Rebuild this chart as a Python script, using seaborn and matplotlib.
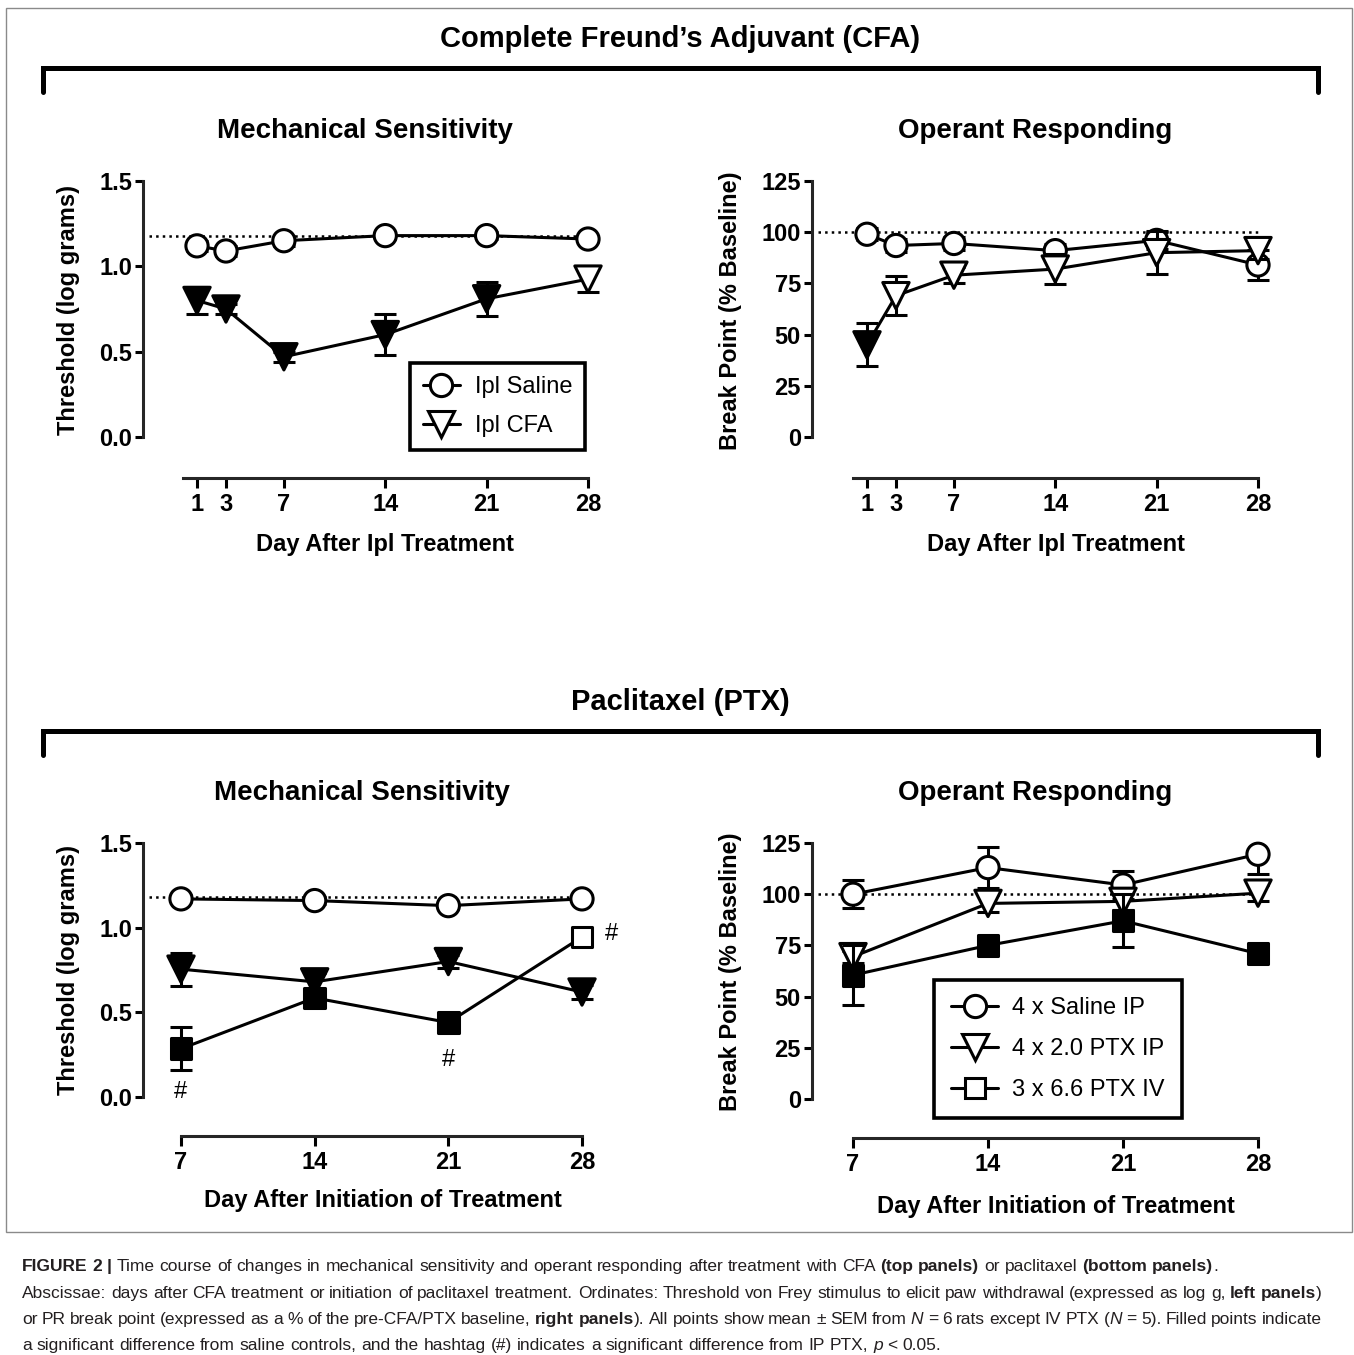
import numpy as np
import pandas as pd
import matplotlib
matplotlib.use("Agg")
import matplotlib.pyplot as plt
import seaborn as sns
from matplotlib.lines import Line2D
from matplotlib.patches import Rectangle

# ---------------- data ----------------
cfa_days = [1, 3, 7, 14, 21, 28]
cfa_mech_saline = [1.12, 1.09, 1.15, 1.18, 1.18, 1.16]
cfa_mech_saline_sem = [0.03, 0.03, 0.03, 0.02, 0.02, 0.02]
cfa_mech_cfa = [0.80, 0.75, 0.47, 0.60, 0.81, 0.925]
cfa_mech_cfa_sem = [0.08, 0.03, 0.03, 0.12, 0.10, 0.075]
cfa_mech_cfa_filled = [True, True, True, True, True, False]
cfa_mech_baseline = 1.175

cfa_op_saline = [99, 93.5, 94.5, 91, 96, 84]
cfa_op_saline_sem = [3, 3, 3, 3, 4, 7.4]
cfa_op_cfa = [45, 69, 79, 82, 90, 91]
cfa_op_cfa_sem = [10.5, 9.5, 4, 7.5, 10.5, 4]
cfa_op_cfa_filled = [True, False, False, False, False, False]
op_baseline = 100

ptx_days = [7, 14, 21, 28]
ptx_mech_saline = [1.17, 1.16, 1.13, 1.17]
ptx_mech_saline_sem = [0.02, 0.02, 0.02, 0.02]
ptx_mech_ip = [0.755, 0.68, 0.80, 0.62]
ptx_mech_ip_sem = [0.098, 0.05, 0.04, 0.04]
ptx_mech_ip_filled = [True, True, True, True]
ptx_mech_iv = [0.285, 0.585, 0.44, 0.945]
ptx_mech_iv_sem = [0.128, 0.03, 0.03, 0.03]
ptx_mech_iv_filled = [True, True, True, False]
ptx_mech_baseline = 1.18

ptx_op_saline = [100, 113, 104.5, 119.5]
ptx_op_saline_sem = [6.8, 10, 7, 9.5]
ptx_op_ip = [69.5, 95.5, 96.5, 100.5]
ptx_op_ip_sem = [3, 4, 4, 4]
ptx_op_iv = [60.5, 75, 87, 71]
ptx_op_iv_sem = [14.5, 3, 13, 3]

mech_ticks = [0.0, 0.5, 1.0, 1.5]
mech_ticklabels = ["0.0", "0.5", "1.0", "1.5"]
op_ticks = [0, 25, 50, 75, 100, 125]
op_ticklabels = ["0", "25", "50", "75", "100", "125"]

cfa_legend = ["Ipl Saline", "Ipl CFA"]
ptx_legend = ["4 x Saline IP", "4 x 2.0 PTX IP", "3 x 6.6 PTX IV"]

# ---------------- style ----------------
sns.set_theme(style="ticks")
plt.rcParams["font.family"] = ["Liberation Sans", "DejaVu Sans"]
plt.rcParams["axes.linewidth"] = 2.2

W, H, DPI = 1354, 1355, 100
fig = plt.figure(figsize=(W / DPI, H / DPI), dpi=DPI)
fig.patch.set_facecolor("white")


def fx(px):
    return px / W


def fy(py):
    return 1 - py / H


def make_axes(left, right, top, bottom, x0p, x0v, x1p, x1v, y0p, y0v, y1p, y1v):
    ax = fig.add_axes([fx(left), fy(bottom), (right - left) / W, (bottom - top) / H])
    sx = (x1v - x0v) / (x1p - x0p)
    ax.set_xlim(x0v + (left - x0p) * sx, x0v + (right - x0p) * sx)
    sy = (y1v - y0v) / (y0p - y1p)
    ax.set_ylim(y0v + (y0p - bottom) * sy, y0v + (y0p - top) * sy)
    ax.set_facecolor("none")
    return ax, sx


def px_to_axes(ax, px, py):
    disp = fig.transFigure.transform((fx(px), fy(py)))
    return ax.transAxes.inverted().transform(disp)


LW = 2.2
SIZES = {"o": 16, "v": 19, "s": 15}


def draw_series(ax, x, y, sem, marker, filled, z):
    # error bars are clipped at the top of the y axis, as in the original
    ax.errorbar(x, y, yerr=sem, fmt="none", ecolor="black", elinewidth=LW,
                capsize=8, capthick=LW, zorder=z)
    sns.lineplot(x=x, y=y, ax=ax, color="black", linewidth=LW, zorder=z + 0.1,
                 estimator=None, sort=False, legend=False)
    fc = ["black" if f else "white" for f in filled]
    ax.scatter(x, y, s=SIZES[marker] ** 2, marker=marker, facecolors=fc,
               edgecolors="black", linewidths=LW, zorder=z + 0.2, clip_on=False)


def style_axes(ax, xticks, xbounds, yticks, yticklabels, ybounds):
    for s in ["top", "right"]:
        ax.spines[s].set_visible(False)
    ax.spines["left"].set_bounds(*ybounds)
    ax.spines["bottom"].set_bounds(*xbounds)
    ax.set_xticks(xticks)
    ax.set_xticklabels([str(t) for t in xticks], fontweight="bold")
    ax.set_yticks(yticks)
    ax.set_yticklabels(yticklabels, fontweight="bold")
    ax.tick_params(axis="x", direction="out", length=7, width=LW, labelsize=17,
                   pad=4, colors="black")
    ax.tick_params(axis="y", direction="out", length=6, width=LW, labelsize=17,
                   pad=2, colors="black")
    ax.grid(False)


def baseline(ax, value, x_end, sx):
    x0 = ax.get_xlim()[0] + 6 * sx
    ax.plot([x0, x_end], [value, value], color="black", lw=1.8, ls=":", zorder=1)


def set_labels(ax, xlabel, xpos, ylabel, ypos):
    ax.set_xlabel(xlabel, fontsize=17, fontweight="bold", color="black")
    ax.xaxis.label.set_va("center")
    ax.xaxis.set_label_coords(*px_to_axes(ax, *xpos))
    ax.set_ylabel(ylabel, fontsize=17, fontweight="bold", color="black")
    ax.yaxis.label.set_va("center")
    ax.yaxis.set_label_coords(*px_to_axes(ax, *ypos))


def legend_handles(markers):
    return [Line2D([0], [0], color="black", lw=LW, marker=m, markersize=SIZES[m],
                   markerfacecolor="white", markeredgecolor="black", markeredgewidth=LW)
            for m in markers]


def add_legend(ax, markers, labels, right_px, bottom_px, spacing, hlen, bpad):
    leg = ax.legend(legend_handles(markers), labels, loc="lower right",
                    bbox_to_anchor=(fx(right_px), fy(bottom_px)),
                    bbox_transform=fig.transFigure, frameon=True, fancybox=False,
                    edgecolor="black", fontsize=17, handlelength=hlen,
                    handletextpad=0.6, labelspacing=spacing, borderpad=bpad,
                    borderaxespad=0, framealpha=1)
    leg.get_frame().set_linewidth(2.6)
    leg.set_zorder(10)
    for t in leg.get_texts():
        t.set_color("black")
    return leg


# ---------------- top-left: CFA mechanical ----------------
ax1, sx1 = make_axes(143, 600, 181, 478, 197, 1, 588, 28, 437, 0, 181, 1.5)
baseline(ax1, cfa_mech_baseline, 28, sx1)
draw_series(ax1, cfa_days, cfa_mech_saline, cfa_mech_saline_sem, "o", [False] * 6, 3)
draw_series(ax1, cfa_days, cfa_mech_cfa, cfa_mech_cfa_sem, "v", cfa_mech_cfa_filled, 4)
style_axes(ax1, cfa_days, (0, 28), mech_ticks, mech_ticklabels, (0, 1.5))
set_labels(ax1, "Day After Ipl Treatment", (385, 544), "Threshold (log grams)", (68, 310))
add_legend(ax1, ["o", "v"], cfa_legend, 585, 450, 0.7, 1.6, 0.55)

# ---------------- top-right: CFA operant ----------------
ax2, sx2 = make_axes(812, 1270, 181, 478, 867, 1, 1258, 28, 437, 0, 181, 125)
baseline(ax2, op_baseline, 28, sx2)
draw_series(ax2, cfa_days, cfa_op_saline, cfa_op_saline_sem, "o", [False] * 6, 3)
draw_series(ax2, cfa_days, cfa_op_cfa, cfa_op_cfa_sem, "v", cfa_op_cfa_filled, 4)
style_axes(ax2, cfa_days, (0, 28), op_ticks, op_ticklabels, (0, 125))
set_labels(ax2, "Day After Ipl Treatment", (1056, 544), "Break Point (% Baseline)", (731, 311))

# ---------------- bottom-left: PTX mechanical ----------------
ax3, sx3 = make_axes(143, 600, 843, 1136, 181, 7, 582, 28, 1097, 0, 843, 1.5)
baseline(ax3, ptx_mech_baseline, 28, sx3)
draw_series(ax3, ptx_days, ptx_mech_saline, ptx_mech_saline_sem, "o", [False] * 4, 3)
draw_series(ax3, ptx_days, ptx_mech_ip, ptx_mech_ip_sem, "v", ptx_mech_ip_filled, 4)
draw_series(ax3, ptx_days, ptx_mech_iv, ptx_mech_iv_sem, "s", ptx_mech_iv_filled, 5)
style_axes(ax3, ptx_days, (7, 28), mech_ticks, mech_ticklabels, (0, 1.5))
set_labels(ax3, "Day After Initiation of Treatment", (383, 1201), "Threshold (log grams)", (68, 970))
for xd, yd in [(7, 0.03), (21, 0.22), (29.57, 0.96)]:
    ax3.text(xd, yd, "#", ha="center", va="center", fontsize=17, color="black")

# ---------------- bottom-right: PTX operant ----------------
ax4, sx4 = make_axes(812, 1270, 843, 1138, 853, 7, 1258, 28, 1099, 0, 843, 125)
baseline(ax4, op_baseline, 28, sx4)
draw_series(ax4, ptx_days, ptx_op_saline, ptx_op_saline_sem, "o", [False] * 4, 3)
draw_series(ax4, ptx_days, ptx_op_ip, ptx_op_ip_sem, "v", [False] * 4, 4)
draw_series(ax4, ptx_days, ptx_op_iv, ptx_op_iv_sem, "s", [True] * 4, 5)
style_axes(ax4, ptx_days, (7, 28), op_ticks, op_ticklabels, (0, 125))
set_labels(ax4, "Day After Initiation of Treatment", (1056, 1206), "Break Point (% Baseline)", (731, 972))
add_legend(ax4, ["o", "v", "s"], ptx_legend, 1182, 1118, 0.8, 2.0, 0.72)

# ---------------- headers, brackets, frame ----------------
fig.text(fx(680), fy(39), "Complete Freund\u2019s Adjuvant (CFA)", ha="center", va="center",
         fontsize=21, fontweight="bold", color="black")
fig.text(fx(680), fy(702), "Paclitaxel (PTX)", ha="center", va="center",
         fontsize=21, fontweight="bold", color="black")
for (x, y, t) in [(365, 131, "Mechanical Sensitivity"), (1035, 131, "Operant Responding"),
                  (362, 793, "Mechanical Sensitivity"), (1035, 793, "Operant Responding")]:
    fig.text(fx(x), fy(y), t, ha="center", va="center", fontsize=20, fontweight="bold",
             color="black")

for yb in [68, 731]:
    fig.add_artist(Line2D([fx(43), fx(43), fx(1318), fx(1318)],
                          [fy(yb + 24), fy(yb), fy(yb), fy(yb + 24)],
                          transform=fig.transFigure, color="black", lw=3.6,
                          solid_joinstyle="miter", solid_capstyle="round"))

fig.add_artist(Rectangle((fx(6), fy(1232)), (1352 - 6) / W, (1232 - 8) / H,
                         transform=fig.transFigure, fill=False, edgecolor="#8a8a8a", lw=1))

# ---------------- caption ----------------
caption_lines = [
    [("FIGURE 2 | ", "b"), ("Time course of changes in mechanical sensitivity and operant responding after treatment with CFA ", "n"),
     ("(top panels)", "b"), (" or paclitaxel ", "n"), ("(bottom panels)", "b"), (".", "n")],
    [("Abscissae: days after CFA treatment or initiation of paclitaxel treatment. Ordinates: Threshold von Frey stimulus to elicit paw withdrawal (expressed as log g, ", "n"),
     ("left panels", "b"), (")", "n")],
    [("or PR break point (expressed as a % of the pre-CFA/PTX baseline, ", "n"), ("right panels", "b"),
     ("). All points show mean \u00b1 SEM from ", "n"), ("N", "i"), (" = 6 rats except IV PTX (", "n"),
     ("N", "i"), (" = 5). Filled points indicate", "n")],
    [("a significant difference from saline controls, and the hashtag (#) indicates a significant difference from IP PTX, ", "n"),
     ("p", "i"), (" < 0.05.", "n")],
]
caption_ends = [None, 1322, 1322, None]
caption_baselines = [1271, 1298, 1324, 1350]
CAP_FAMILY = ["Liberation Sans Narrow", "Liberation Sans", "DejaVu Sans"]
STYLES = {"n": dict(fontweight="normal", fontstyle="normal"),
          "b": dict(fontweight="bold", fontstyle="normal"),
          "i": dict(fontweight="normal", fontstyle="italic")}


def tokenize(segments):
    tokens = []
    space = False
    for text, style in segments:
        for ch in text:
            if ch == " ":
                space = True
                continue
            if tokens and not space and tokens[-1][1] == style:
                tokens[-1][0] += ch
            else:
                tokens.append([ch, style, space and bool(tokens)])
            space = False
    return tokens


renderer = fig.canvas.get_renderer()


def text_width(s, style, size):
    t = fig.text(0, 0, s, fontsize=size, family=CAP_FAMILY, **STYLES[style])
    w = t.get_window_extent(renderer).width
    t.remove()
    return w


def line_natural(tokens, size):
    sp = text_width("n n", "n", size) - text_width("nn", "n", size)
    widths = [text_width(tk[0], tk[1], size) for tk in tokens]
    nsp = sum(1 for tk in tokens if tk[2])
    return widths, sp, nsp, sum(widths) + nsp * sp


tok2 = tokenize(caption_lines[1])
_, _, _, nat10 = line_natural(tok2, 10)
cap_size = 10 * 1300 / nat10

for segs, end, base in zip(caption_lines, caption_ends, caption_baselines):
    toks = tokenize(segs)
    widths, sp, nsp, nat = line_natural(toks, cap_size)
    gap = sp
    if end is not None and nsp > 0:
        gap = max(sp * 0.6, sp + ((end - 22) - nat) / nsp)
    x = 22
    for (word, style, spb), w in zip(toks, widths):
        if spb:
            x += gap
        fig.text(fx(x), fy(base), word, fontsize=cap_size, family=CAP_FAMILY,
                 va="baseline", ha="left", color="#231f20", **STYLES[style])
        x += w

fig.savefig("out.png", dpi=DPI, facecolor="white")
